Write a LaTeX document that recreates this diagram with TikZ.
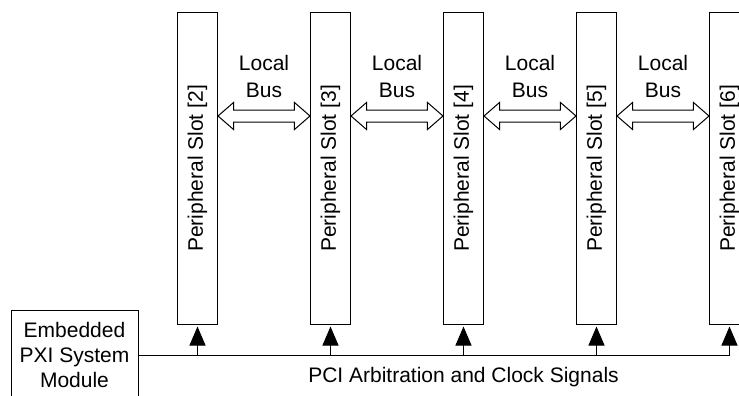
\documentclass[tikz,border=0pt]{standalone}
\usepackage{fontspec}
\setmainfont{Liberation Sans}
\usetikzlibrary{arrows.meta,shapes.arrows}

\begin{document}
\begin{tikzpicture}[x=1pt,y=1pt,
            line width=1pt,node distance=133pt,
            every node/.style={font=\fontsize{21}{25}\selectfont},
            slot/.style={draw,minimum width=40pt,minimum height=311pt,inner sep=0pt},
            slot text/.style={rotate=90,inner sep=0pt},
            module/.style={draw,minimum width=127pt,minimum height=90pt,align=center,inner sep=0pt},
            bus arrow/.style={draw,double arrow,inner sep=0pt,inner ysep=5.5pt,
                minimum height=92pt,minimum width=26pt,
                double arrow head extend=7.5pt,double arrow tip angle=82},
            bus text/.style={align=center,font=\fontsize{21}{27}\selectfont},
            sig/.style={-{Triangle[length=19pt,width=16pt]},shorten >=2pt}]
        \useasboundingbox (0,0) rectangle (739,-396);
            % Define slots
        \node[slot] (s2) at (197.5,-168.5) {};
        \node[slot] (s3) [right of=s2] {};
        \node[slot] (s4) [right of=s3] {};
        \node[slot] (s5) [right of=s4] {};
        \node[slot] (s6) [right of=s5] {};
        \node[slot text] at (s2) {Peripheral Slot [2]};
        \node[slot text] at (s3) {Peripheral Slot [3]};
        \node[slot text] at (s4) {Peripheral Slot [4]};
        \node[slot text] at (s5) {Peripheral Slot [5]};
        \node[slot text] at (s6) {Peripheral Slot [6]};
        \node[module] (mod) at (74.5,-355) {Embedded\\PXI System\\Module};

        % Local bus arrows
        \path (s2.east |- 0,-116) -- (s3.west |- 0,-116) node[midway,bus arrow] (a23) {};
        \path (s3.east |- 0,-116) -- (s4.west |- 0,-116) node[midway,bus arrow] (a34) {};
        \path (s4.east |- 0,-116) -- (s5.west |- 0,-116) node[midway,bus arrow] (a45) {};
        \path (s5.east |- 0,-116) -- (s6.west |- 0,-116) node[midway,bus arrow] (a56) {};
        \node[bus text] at (a23 |- 0,-76) {Local\\Bus};
        \node[bus text] at (a34 |- 0,-76) {Local\\Bus};
        \node[bus text] at (a45 |- 0,-76) {Local\\Bus};
        \node[bus text] at (a56 |- 0,-76) {Local\\Bus};

        % Draw signals
        \draw[sig] (mod.east) -| (s6);
        \path
            (s2 |- mod.east) edge[sig] (s2)
            (s3 |- mod.east) edge[sig] (s3)
            (s4 |- mod.east) edge[sig] (s4)
            (s5 |- mod.east) edge[sig] (s5);
        \node[anchor=base] (pci) at (s4 |- 0,-382) {PCI Arbitration and Clock Signals};
        \end{tikzpicture}
\end{document}
